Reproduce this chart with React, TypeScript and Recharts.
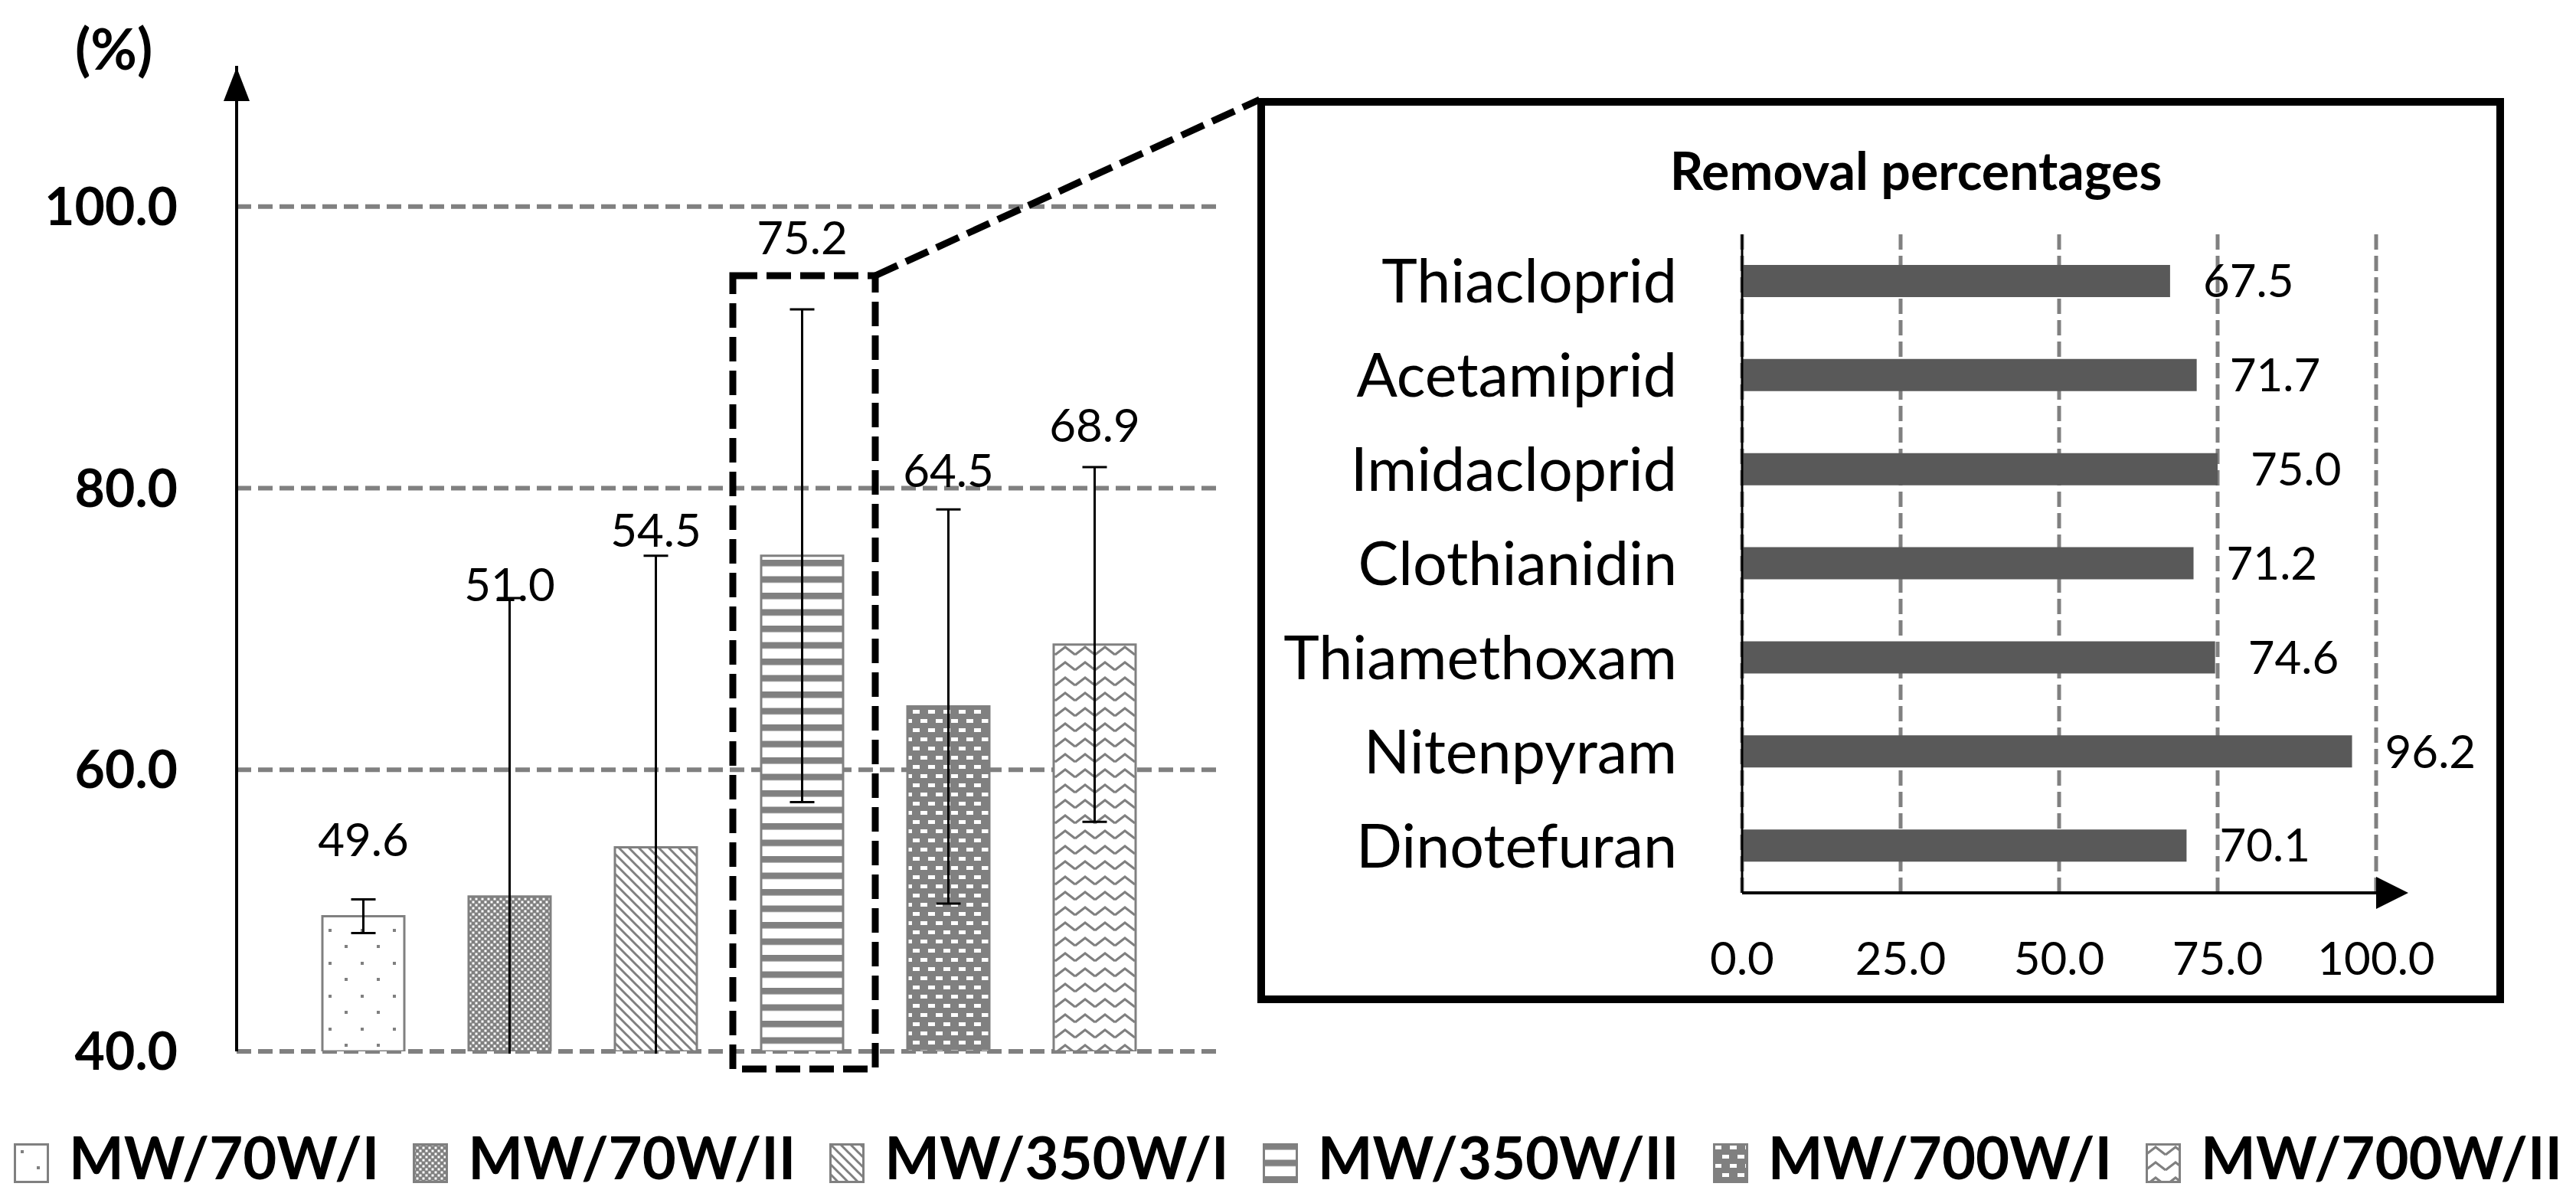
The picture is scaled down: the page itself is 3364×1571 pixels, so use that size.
import React from "react";
import {
  BarChart,
  Bar,
  XAxis,
  YAxis,
  CartesianGrid,
  Cell,
  ErrorBar,
  LabelList,
} from "recharts";

// main chart: mean removal per treatment
const groups = ["MW/70W/I", "MW/70W/II", "MW/350W/I", "MW/350W/II", "MW/700W/I", "MW/700W/II"];
const groupMeans = [49.6, 51.0, 54.5, 75.2, 64.5, 68.9];
const groupErrors = [1.2, 21.2, 20.7, 17.5, 14.0, 12.6];
const yTicks = [40, 60, 80, 100];

// inset: removal per compound for MW/350W/II
const compounds = [
  "Thiacloprid",
  "Acetamiprid",
  "Imidacloprid",
  "Clothianidin",
  "Thiamethoxam",
  "Nitenpyram",
  "Dinotefuran",
];
const removal = [67.5, 71.7, 75.0, 71.2, 74.6, 96.2, 70.1];
const xTicks = [0, 25, 50, 75, 100];

const Y_MIN = 40;
const Y_MAX = 110;
const FONT = "Lato, 'Open Sans', sans-serif";
const GRID = "#808080";
// distance from error-bar cap up to the label centre (labels were hand placed)
const labelGap = [79, 19, 35, 95, 52, 56];

const mainData = groups.map((name, i) => ({
  name,
  value: groupMeans[i],
  err: groupErrors[i],
}));

const insetData = compounds.map((name, i) => ({ name, value: removal[i] }));

const Patterns = () => (
  <svg width={0} height={0} style={{ position: "absolute" }}>
    <defs>
      <pattern id="pat-0" width={42} height={43} patternUnits="userSpaceOnUse">
        <rect width={42} height={43} fill="#fff" />
        <rect x={9} y={9} width={4} height={4} fill={GRID} />
        <rect x={30} y={30} width={4} height={4} fill={GRID} />
      </pattern>
      <pattern id="pat-1" width={8} height={8} patternUnits="userSpaceOnUse">
        <rect width={8} height={8} fill={GRID} />
        <rect x={0.5} y={0.5} width={3} height={3} fill="#fff" />
        <rect x={4.5} y={4.5} width={3} height={3} fill="#fff" />
      </pattern>
      <pattern id="pat-2" width={13} height={13} patternUnits="userSpaceOnUse">
        <rect width={13} height={13} fill="#fff" />
        <path
          d="M-3,-3 L16,16 M-3,10 L3,16 M10,-3 L16,3"
          stroke={GRID}
          strokeWidth={3}
        />
      </pattern>
      <pattern id="pat-3" width={10} height={21.5} patternUnits="userSpaceOnUse">
        <rect width={10} height={21.5} fill="#fff" />
        <rect width={10} height={8.5} fill={GRID} />
      </pattern>
      <pattern id="pat-4" width={20} height={24} patternUnits="userSpaceOnUse">
        <rect width={20} height={24} fill={GRID} />
        <rect x={2} y={3} width={9} height={5} fill="#fff" />
        <rect x={12} y={15} width={9} height={5} fill="#fff" />
        <rect x={-8} y={15} width={9} height={5} fill="#fff" />
      </pattern>
      <pattern id="pat-5" width={26} height={20} patternUnits="userSpaceOnUse">
        <rect width={26} height={20} fill="#fff" />
        <polyline
          points="0,15 13,5 26,15"
          fill="none"
          stroke={GRID}
          strokeWidth={3}
        />
      </pattern>
    </defs>
  </svg>
);

const renderTopLabel = (props: any) => {
  const { x, y, width, height, value, index } = props;
  const k = Number(height) / (Number(value) - Y_MIN);
  const capY = Number(y) - groupErrors[index] * k;
  return (
    <text
      x={Number(x) + Number(width) / 2}
      y={capY - labelGap[index]}
      textAnchor="middle"
      dominantBaseline="central"
      fontFamily={FONT}
      fontSize={60}
      fill="#000"
    >
      {Number(value).toFixed(1)}
    </text>
  );
};

// grid only at the labelled ticks (not at the open top of the axis)
const gridRows = (props: any) => {
  const o = props?.offset;
  if (!o || typeof o.top !== "number") return [];
  return yTicks.map((t) => o.top + (o.height * (Y_MAX - t)) / (Y_MAX - Y_MIN));
};

const Legend = () => (
  <div
    style={{
      position: "absolute",
      left: 0,
      top: 1473,
      width: 3364,
      display: "flex",
      justifyContent: "center",
      alignItems: "flex-end",
      fontFamily: FONT,
      fontWeight: 700,
      fontSize: 76,
      lineHeight: 1,
    }}
  >
    {groups.map((g, i) => (
      <div
        key={g}
        style={{
          display: "flex",
          alignItems: "flex-end",
          marginRight: i < groups.length - 1 ? 44 : 0,
        }}
      >
        <svg width={46} height={52} style={{ marginBottom: 4 }}>
          <rect
            x={1.5}
            y={1.5}
            width={43}
            height={49}
            fill={`url(#pat-${i})`}
            stroke={GRID}
            strokeWidth={3}
          />
        </svg>
        <span style={{ marginLeft: 26 }}>{g}</span>
      </div>
    ))}
  </div>
);

const App: React.FC = () => {
  return (
    <div
      style={{
        position: "absolute",
        left: 0,
        top: 0,
        width: 3364,
        height: 1571,
        background: "#fff",
        fontFamily: FONT,
      }}
    >
      <Patterns />

      <div
        style={{
          position: "absolute",
          left: 98,
          top: 26,
          fontSize: 74,
          fontWeight: 700,
          lineHeight: 1,
        }}
      >
        (%)
      </div>

      {/* whiskers that run below the 40 line are cut off, as in the original */}
      <div
        style={{
          position: "absolute",
          left: 0,
          top: 0,
          clipPath:
            "polygon(0px 0px, 1700px 0px, 1700px 1376px, 290px 1376px, 290px 1571px, 0px 1571px)",
        }}
      >
        <BarChart
          width={1700}
          height={1571}
          data={mainData}
          margin={{ top: 86, right: 103, bottom: 198, left: 209 }}
        >
          <CartesianGrid
            vertical={false}
            stroke={GRID}
            strokeWidth={6}
            strokeDasharray="19 9"
            horizontalCoordinatesGenerator={gridRows}
          />
          <XAxis dataKey="name" hide padding={{ left: 70, right: 72 }} />
          <YAxis
            width={100}
            domain={[Y_MIN, Y_MAX]}
            ticks={yTicks}
            interval={0}
            allowDataOverflow
            axisLine={{ stroke: "#000", strokeWidth: 4 }}
            tickLine={false}
            tickMargin={71}
            tickFormatter={(v: number) => v.toFixed(1)}
            tick={{ fontFamily: FONT, fontWeight: 700, fontSize: 68, fill: "#000" }}
          />
          <Bar
            dataKey="value"
            barSize={107}
            stroke={GRID}
            strokeWidth={3}
            isAnimationActive={false}
          >
            {mainData.map((d, i) => (
              <Cell key={d.name} fill={`url(#pat-${i})`} />
            ))}
            <ErrorBar
              dataKey="err"
              width={16}
              stroke="#000"
              strokeWidth={3}
              direction="y"
            />
            <LabelList dataKey="value" content={renderTopLabel} />
          </Bar>
        </BarChart>
      </div>

      <div
        style={{
          position: "absolute",
          left: 2102,
          top: 188,
          width: 800,
          textAlign: "center",
          fontSize: 68,
          fontWeight: 700,
          lineHeight: 1,
        }}
      >
        Removal percentages
      </div>

      <div style={{ position: "absolute", left: 1650, top: 140 }}>
        <BarChart
          width={1600}
          height={1160}
          data={insetData}
          layout="vertical"
          margin={{ top: 166, right: 147, bottom: 74, left: 525 }}
        >
          <CartesianGrid
            horizontal={false}
            stroke={GRID}
            strokeWidth={5}
            strokeDasharray="20 8"
          />
          <XAxis
            type="number"
            domain={[0, 100]}
            ticks={xTicks}
            interval={0}
            height={60}
            axisLine={{ stroke: "#000", strokeWidth: 4 }}
            tickLine={false}
            tickMargin={58}
            tickFormatter={(v: number) => v.toFixed(1)}
            tick={{ fontFamily: FONT, fontSize: 60, fill: "#000" }}
          />
          <YAxis
            type="category"
            dataKey="name"
            width={100}
            interval={0}
            axisLine={{ stroke: "#000", strokeWidth: 3 }}
            tickLine={false}
            tickMargin={79}
            tick={{ fontFamily: FONT, fontSize: 79, fill: "#000" }}
          />
          <Bar dataKey="value" fill="#595959" barSize={42} isAnimationActive={false}>
            <LabelList
              dataKey="value"
              position="right"
              offset={43}
              formatter={(v: any) => Number(v).toFixed(1)}
              style={{ fontFamily: FONT, fontSize: 60, fill: "#000" }}
            />
          </Bar>
        </BarChart>
      </div>

      <svg
        width={3364}
        height={1571}
        style={{ position: "absolute", left: 0, top: 0, pointerEvents: "none" }}
      >
        <polygon points="309,88 292,132 326,132" fill="#000" />
        <rect
          x={957}
          y={360}
          width={186}
          height={1036}
          fill="none"
          stroke="#000"
          strokeWidth={9}
          strokeDasharray="32 12"
        />
        <line
          x1={1143}
          y1={360}
          x2={1645}
          y2={130}
          stroke="#000"
          strokeWidth={9}
          strokeDasharray="32 12"
        />
        <rect
          x={1647}
          y={133}
          width={1618}
          height={1172}
          fill="none"
          stroke="#000"
          strokeWidth={10}
        />
        <polygon points="3145,1166 3103,1145 3103,1187" fill="#000" />
      </svg>

      <Legend />
    </div>
  );
};

export default App;
